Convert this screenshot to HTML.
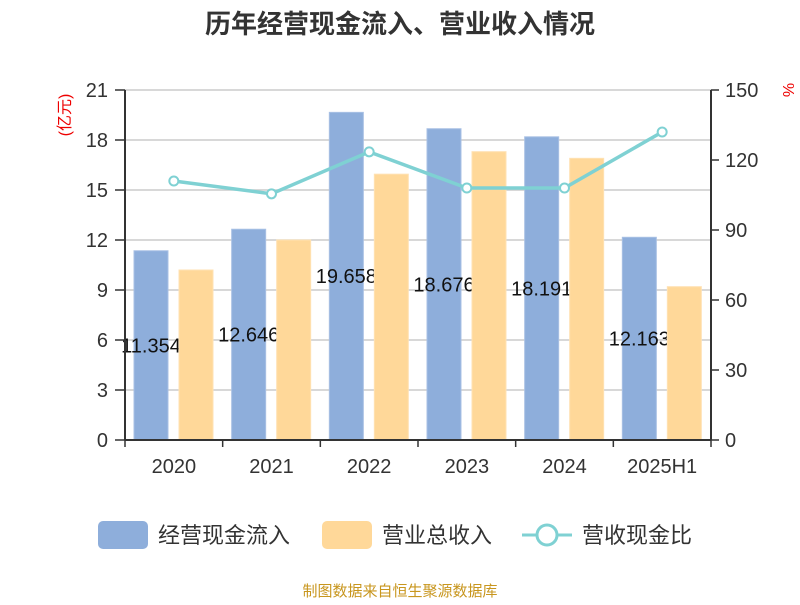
<!DOCTYPE html>
<html><head><meta charset="utf-8"><style>
body{margin:0;background:#fff;}
svg text{font-family:"Liberation Sans","Noto Sans CJK SC",sans-serif;}
</style></head><body>
<svg id="chart" width="800" height="600" xmlns="http://www.w3.org/2000/svg">
<text x="400" y="33" text-anchor="middle" font-size="26" font-weight="bold" fill="#333">历年经营现金流入、营业收入情况</text>
<text transform="translate(70,115) rotate(-90)" text-anchor="middle" font-size="16" fill="#e00">(亿元)</text>
<text transform="translate(783,90) rotate(90)" text-anchor="middle" font-size="16" fill="#e00">%</text>
<g id="grid"></g><g id="bars"></g><g id="line"></g><g id="axes"></g>
<g>
<rect x="98" y="521" width="50" height="28" rx="5" fill="#8eaedb"/>
<text x="158" y="543" font-size="22" fill="#333">经营现金流入</text>
<rect x="322" y="521" width="50" height="28" rx="5" fill="#ffd899"/>
<text x="382" y="543" font-size="22" fill="#333">营业总收入</text>
<line x1="522" y1="535" x2="572" y2="535" stroke="#7fd1d3" stroke-width="3"/>
<circle cx="547" cy="535" r="10" fill="#fff" stroke="#7fd1d3" stroke-width="3"/>
<text x="582" y="543" font-size="22" fill="#333">营收现金比</text>
</g>
<text x="400" y="596" text-anchor="middle" font-size="15" fill="#c8961e">制图数据来自恒生聚源数据库</text>
</svg>
<script>
const categories=["2020","2021","2022","2023","2024","2025H1"];
const cashInflow=[11.354,12.646,19.658,18.676,18.191,12.163];
const revenue=[10.2,12.0,15.95,17.3,16.9,9.2];
const ratio=[111,105.5,123.5,108,108,132];
const leftTicks=[0,3,6,9,12,15,18,21];
const rightTicks=[0,30,60,90,120,150];
const NS="http://www.w3.org/2000/svg";
const X0=125,X1=711,Y0=440,Y1=90;
const band=(X1-X0)/categories.length;
const yL=v=>Y0-v/21*(Y0-Y1);
const yR=v=>Y0-v/150*(Y0-Y1);
function mk(p,t,a){const e=document.createElementNS(NS,t);for(const k in a)e.setAttribute(k,a[k]);p.appendChild(e);return e;}
const grid=document.getElementById('grid'),bars=document.getElementById('bars'),line=document.getElementById('line'),axes=document.getElementById('axes');
leftTicks.forEach(v=>{
 const g=mk(grid,'line',{x1:X0,x2:X1,y1:yL(v),y2:yL(v),stroke:'#ccc','stroke-width':1.5});
 
 
 const t=mk(axes,'text',{x:108,y:yL(v)+7,'text-anchor':'end','font-size':20,fill:'#333'});t.textContent=v;
 
 
 mk(axes,'line',{x1:115,x2:X0,y1:yL(v),y2:yL(v),stroke:'#333','stroke-width':1.5});
});
rightTicks.forEach(v=>{
 const t=mk(axes,'text',{x:725,y:yR(v)+7,'font-size':20,fill:'#333'});t.textContent=v;
 
 
 mk(axes,'line',{x1:X1,x2:X1+8,y1:yR(v),y2:yR(v),stroke:'#333','stroke-width':1.5});
});
categories.forEach((c,i)=>{
 const bx=X0+i*band;
 const b=mk(bars,'rect',{x:bx+9,y:yL(cashInflow[i]),width:34,height:Y0-yL(cashInflow[i]),fill:'#8eaedb',stroke:'#a8c0e4'});
 
 
 const lb=mk(bars,'text',{x:bx+26,y:(yL(cashInflow[i])+Y0)/2+7,'text-anchor':'middle','font-size':20,fill:'#111'});lb.textContent=cashInflow[i].toFixed(3);
 
 
});
categories.forEach((c,i)=>{
 const bx=X0+i*band;
 const b=mk(bars,'rect',{x:bx+54,y:yL(revenue[i]),width:34,height:Y0-yL(revenue[i]),fill:'#ffd899',stroke:'#ffe2b3'});
 
 
 const t=mk(axes,'text',{x:bx+band/2,y:473,'text-anchor':'middle','font-size':20,fill:'#333'});t.textContent=c;
 
 
});
for(let i=0;i<=categories.length;i++)mk(axes,'line',{x1:X0+i*band,x2:X0+i*band,y1:Y0,y2:Y0+7,stroke:'#333','stroke-width':1.5});
const pts=ratio.map((v,i)=>[X0+band*(i+0.5),yR(v)]);
const pl=mk(line,'polyline',{points:pts.map(p=>p.join(',')).join(' '),fill:'none',stroke:'#7fd1d3','stroke-width':3.5});


pts.forEach((p,i)=>{const c=mk(line,'circle',{cx:p[0],cy:p[1],r:4.5,fill:'#fff',stroke:'#7fd1d3','stroke-width':2});
 
 });
[[X0,Y1,X0,Y0],[X1,Y1,X1,Y0],[X0,Y0,X1,Y0]].forEach(a=>{const l=mk(axes,'line',{x1:a[0],y1:a[1],x2:a[2],y2:a[3],stroke:'#333','stroke-width':2});
 
 });
</script>
</body></html>
